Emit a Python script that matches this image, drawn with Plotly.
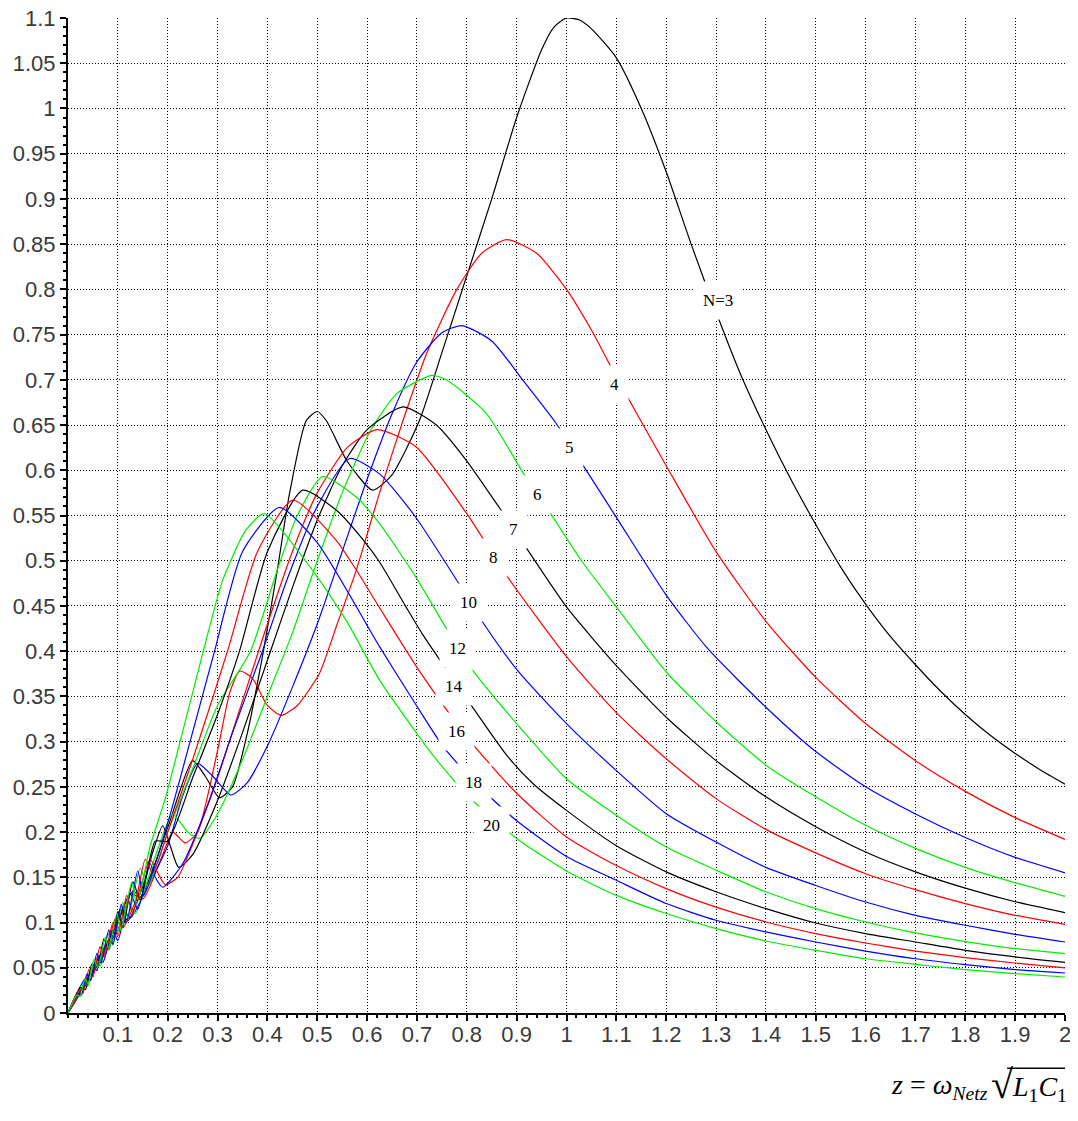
import plotly.graph_objects as go

# ---- data (x = z, y = ratio) ----
N_LABELS = ["N=3", "4", "5", "6", "7", "8", "10", "12", "14", "16", "18", "20"]
COLORS = ["#000000", "#ff0000", "#0000ff", "#00ee00"] * 3

X3 = [0, 0.05, 0.1, 0.125, 0.145, 0.2, 0.25, 0.275, 0.304, 0.33, 0.36, 0.391, 0.42, 0.444, 0.478, 0.5, 0.518, 0.56, 0.611, 0.65, 0.705, 0.75, 0.8, 0.85, 0.9, 0.95, 0.975, 1.0, 1.025, 1.05, 1.1, 1.15, 1.2, 1.25, 1.3, 1.35, 1.4, 1.45, 1.5, 1.55, 1.6, 1.65, 1.7, 1.75, 1.8, 1.85, 1.9, 1.95, 2.0]
Y3 = [0, 0.05, 0.1, 0.132, 0.128, 0.205, 0.279, 0.262, 0.238, 0.25, 0.31, 0.397, 0.49, 0.573, 0.655, 0.665, 0.655, 0.61, 0.578, 0.595, 0.655, 0.73, 0.815, 0.9, 0.99, 1.065, 1.09, 1.1, 1.098, 1.088, 1.056, 1.0, 0.93, 0.85, 0.775, 0.705, 0.645, 0.59, 0.54, 0.493, 0.452, 0.416, 0.385, 0.356, 0.33, 0.307, 0.287, 0.269, 0.253]

X4 = [0, 0.05, 0.1, 0.13, 0.15, 0.19, 0.21, 0.235, 0.26, 0.3, 0.325, 0.345, 0.37, 0.4, 0.428, 0.46, 0.504, 0.54, 0.578, 0.625, 0.672, 0.72, 0.78, 0.83, 0.88, 0.94, 1.0, 1.05, 1.1, 1.2, 1.3, 1.4, 1.5, 1.6, 1.7, 1.8, 1.9, 2.0]
Y4 = [0, 0.046, 0.092, 0.135, 0.126, 0.175, 0.2, 0.188, 0.2, 0.29, 0.355, 0.378, 0.37, 0.34, 0.329, 0.34, 0.375, 0.43, 0.489, 0.575, 0.655, 0.73, 0.8, 0.84, 0.855, 0.84, 0.80, 0.755, 0.703, 0.605, 0.51, 0.433, 0.371, 0.32, 0.279, 0.245, 0.216, 0.192]

X5 = [0, 0.05, 0.09, 0.11, 0.125, 0.16, 0.2, 0.23, 0.26, 0.29, 0.327, 0.36, 0.404, 0.45, 0.5, 0.55, 0.6, 0.652, 0.7, 0.75, 0.79, 0.85, 0.912, 0.979, 1.029, 1.1, 1.2, 1.283, 1.4, 1.5, 1.6, 1.7, 1.8, 1.9, 2.0]
Y5 = [0, 0.044, 0.082, 0.115, 0.105, 0.14, 0.185, 0.24, 0.276, 0.262, 0.241, 0.255, 0.30, 0.36, 0.43, 0.51, 0.59, 0.665, 0.72, 0.752, 0.76, 0.743, 0.70, 0.652, 0.609, 0.548, 0.462, 0.403, 0.338, 0.289, 0.25, 0.22, 0.194, 0.172, 0.155]

X6 = [0, 0.05, 0.1, 0.12, 0.135, 0.17, 0.21, 0.24, 0.264, 0.3, 0.35, 0.4, 0.45, 0.5, 0.55, 0.608, 0.66, 0.73, 0.759, 0.839, 0.912, 0.966, 1.03, 1.1, 1.2, 1.3, 1.4, 1.5, 1.6, 1.7, 1.8, 1.9, 2.0]
Y6 = [0, 0.048, 0.09, 0.124, 0.11, 0.165, 0.22, 0.2, 0.193, 0.22, 0.28, 0.35, 0.42, 0.5, 0.575, 0.645, 0.685, 0.705, 0.70, 0.663, 0.598, 0.554, 0.5, 0.449, 0.377, 0.322, 0.274, 0.239, 0.2075, 0.182, 0.161, 0.144, 0.129]

X7 = [0, 0.05, 0.09, 0.105, 0.12, 0.15, 0.17, 0.19, 0.205, 0.222, 0.25, 0.3, 0.35, 0.4, 0.45, 0.5, 0.55, 0.6, 0.672, 0.739, 0.799, 0.866, 0.922, 1.0, 1.1, 1.2, 1.3, 1.4, 1.5, 1.6, 1.7, 1.8, 1.9, 2.0]
Y7 = [0, 0.048, 0.088, 0.115, 0.102, 0.14, 0.178, 0.207, 0.185, 0.161, 0.175, 0.235, 0.31, 0.39, 0.47, 0.545, 0.605, 0.645, 0.67, 0.65, 0.611, 0.558, 0.512, 0.449, 0.384, 0.327, 0.279, 0.239, 0.206, 0.178, 0.156, 0.138, 0.123, 0.111]

X8 = [0, 0.05, 0.08, 0.095, 0.11, 0.14, 0.165, 0.18, 0.195, 0.22, 0.26, 0.3, 0.35, 0.4, 0.45, 0.5, 0.56, 0.62, 0.698, 0.8, 0.882, 1.0, 1.1, 1.2, 1.3, 1.4, 1.5, 1.6, 1.7, 1.8, 1.9, 2.0]
Y8 = [0, 0.046, 0.075, 0.104, 0.094, 0.13, 0.17, 0.155, 0.142, 0.15, 0.2, 0.26, 0.345, 0.43, 0.51, 0.575, 0.625, 0.645, 0.626, 0.552, 0.482, 0.394, 0.332, 0.281, 0.237, 0.203, 0.177, 0.154, 0.1364, 0.121, 0.108, 0.098]

X10 = [0, 0.035, 0.045, 0.06, 0.07, 0.09, 0.1, 0.125, 0.14, 0.165, 0.175, 0.19, 0.23, 0.28, 0.33, 0.39, 0.44, 0.5, 0.565, 0.625, 0.695, 0.782, 0.832, 0.9, 1.0, 1.1, 1.2, 1.3, 1.4, 1.5, 1.6, 1.7, 1.8, 1.9, 2.0]
Y10 = [0, 0.038, 0.036, 0.062, 0.056, 0.092, 0.08, 0.132, 0.115, 0.165, 0.15, 0.139, 0.165, 0.23, 0.31, 0.40, 0.48, 0.56, 0.613, 0.596, 0.55, 0.4765, 0.432, 0.38, 0.32, 0.268, 0.2204, 0.189, 0.161, 0.141, 0.1227, 0.108, 0.097, 0.087, 0.0785]

X12 = [0, 0.03, 0.04, 0.055, 0.065, 0.08, 0.09, 0.11, 0.12, 0.145, 0.16, 0.2, 0.25, 0.3, 0.366, 0.42, 0.46, 0.511, 0.578, 0.625, 0.7, 0.759, 0.809, 0.906, 1.0, 1.1, 1.2, 1.3, 1.4, 1.5, 1.6, 1.7, 1.8, 1.9, 2.0]
Y12 = [0, 0.032, 0.03, 0.06, 0.052, 0.088, 0.075, 0.122, 0.105, 0.16, 0.14, 0.2, 0.27, 0.34, 0.40, 0.49, 0.55, 0.593, 0.5705, 0.541, 0.48, 0.425, 0.381, 0.316, 0.259, 0.2186, 0.1835, 0.158, 0.134, 0.1154, 0.1006, 0.0885, 0.079, 0.0712, 0.0657]

X14 = [0, 0.025, 0.035, 0.048, 0.058, 0.072, 0.082, 0.1, 0.11, 0.13, 0.145, 0.175, 0.2, 0.25, 0.3, 0.344, 0.4, 0.471, 0.538, 0.598, 0.625, 0.678, 0.712, 0.802, 0.88, 0.932, 1.0, 1.1, 1.2, 1.3, 1.4, 1.5, 1.6, 1.7, 1.8, 1.9, 2.0]
Y14 = [0, 0.028, 0.026, 0.054, 0.047, 0.082, 0.07, 0.112, 0.095, 0.145, 0.125, 0.19, 0.19, 0.26, 0.33, 0.40, 0.51, 0.578, 0.556, 0.519, 0.4986, 0.449, 0.418, 0.3457, 0.285, 0.254, 0.224, 0.185, 0.156, 0.134, 0.1154, 0.0995, 0.0878, 0.0785, 0.0693, 0.062, 0.056]

X16 = [0, 0.022, 0.03, 0.042, 0.05, 0.064, 0.073, 0.09, 0.1, 0.118, 0.13, 0.155, 0.17, 0.2, 0.25, 0.32, 0.38, 0.451, 0.538, 0.578, 0.625, 0.705, 0.8, 0.9, 1.0, 1.1, 1.2, 1.3, 1.4, 1.5, 1.6, 1.7, 1.8, 1.9, 2.0]
Y16 = [0, 0.025, 0.022, 0.048, 0.04, 0.073, 0.062, 0.1, 0.085, 0.13, 0.11, 0.17, 0.155, 0.2, 0.28, 0.40, 0.51, 0.567, 0.5226, 0.49, 0.448, 0.378, 0.305, 0.243, 0.1946, 0.163, 0.1375, 0.117, 0.1006, 0.0878, 0.0774, 0.0685, 0.0612, 0.0553, 0.0498]

X18 = [0, 0.02, 0.027, 0.038, 0.045, 0.058, 0.066, 0.082, 0.09, 0.107, 0.117, 0.14, 0.152, 0.2, 0.24, 0.294, 0.35, 0.424, 0.5, 0.625, 0.692, 0.752, 0.814, 0.899, 1.0, 1.1, 1.2, 1.3, 1.4, 1.5, 1.6, 1.7, 1.8, 1.9, 2.0]
Y18 = [0, 0.022, 0.02, 0.043, 0.036, 0.066, 0.055, 0.092, 0.076, 0.12, 0.1, 0.157, 0.13, 0.21, 0.29, 0.40, 0.51, 0.559, 0.52, 0.405, 0.346, 0.295, 0.256, 0.213, 0.173, 0.1467, 0.121, 0.1025, 0.0896, 0.0785, 0.0685, 0.06, 0.0535, 0.048, 0.0442]

X20 = [0, 0.018, 0.024, 0.034, 0.04, 0.052, 0.06, 0.075, 0.082, 0.098, 0.106, 0.128, 0.138, 0.165, 0.194, 0.224, 0.27, 0.31, 0.357, 0.394, 0.491, 0.558, 0.625, 0.705, 0.729, 0.8, 0.9, 1.0, 1.1, 1.2, 1.3, 1.4, 1.5, 1.6, 1.7, 1.8, 1.9, 2.0]
Y20 = [0, 0.02, 0.018, 0.038, 0.032, 0.059, 0.05, 0.084, 0.07, 0.11, 0.092, 0.145, 0.12, 0.185, 0.235, 0.298, 0.397, 0.478, 0.534, 0.552, 0.489, 0.434, 0.368, 0.305, 0.287, 0.241, 0.193, 0.157, 0.13, 0.11, 0.0933, 0.0796, 0.0693, 0.06, 0.0538, 0.048, 0.0435, 0.0398]

SERIES = [(X3, Y3), (X4, Y4), (X5, Y5), (X6, Y6), (X7, Y7), (X8, Y8),
          (X10, Y10), (X12, Y12), (X14, Y14), (X16, Y16), (X18, Y18), (X20, Y20)]

# label anchor points (on each curve)
LABEL_X = [1.304, 1.097, 1.007, 0.941, 0.893, 0.854, 0.804, 0.782, 0.774, 0.78, 0.814, 0.85]
LABEL_Y = [0.788, 0.695, 0.625, 0.573, 0.535, 0.504, 0.454, 0.403, 0.361, 0.311, 0.255, 0.207]

X_TICKS = [round(0.1 * i, 1) for i in range(1, 21)]
X_TICKTEXT = ["0.1", "0.2", "0.3", "0.4", "0.5", "0.6", "0.7", "0.8", "0.9", "1",
              "1.1", "1.2", "1.3", "1.4", "1.5", "1.6", "1.7", "1.8", "1.9", "2"]
Y_TICKS = [round(0.05 * i, 2) for i in range(0, 23)]
Y_TICKTEXT = ["0", "0.05", "0.1", "0.15", "0.2", "0.25", "0.3", "0.35", "0.4", "0.45",
              "0.5", "0.55", "0.6", "0.65", "0.7", "0.75", "0.8", "0.85", "0.9", "0.95",
              "1", "1.05", "1.1"]

fig = go.Figure()
for (xs, ys), col, name in zip(SERIES, COLORS, N_LABELS):
    fig.add_trace(go.Scatter(x=xs, y=ys, mode="lines", name=name,
                             line=dict(color=col, width=1.2, shape="spline", smoothing=0.6),
                             hoverinfo="skip"))

for lx, ly, t in zip(LABEL_X, LABEL_Y, N_LABELS):
    fig.add_annotation(x=lx, y=ly, text=t, showarrow=False, xref="x", yref="y",
                       font=dict(family="Liberation Serif", size=17, color="#000"),
                       bgcolor="white", borderpad=9)

tickfont = dict(family="Liberation Sans", size=22, color="#3a3a3a")
grid = dict(showgrid=True, gridcolor="#000", griddash="1px,2px", gridwidth=1,
            zeroline=False, showline=True, linecolor="#000", linewidth=2,
            ticks="outside", ticklen=6, tickcolor="#000", tickwidth=1.5,
            ticklabeloverflow="allow", automargin=False)
fig.update_xaxes(range=[0, 2], tickvals=X_TICKS, ticktext=X_TICKTEXT, tickfont=tickfont,
                 ticklabelstandoff=-5,
                 minor=dict(dtick=0.02, tick0=0, ticks="outside", ticklen=3, tickcolor="#000", showgrid=False),
                 **grid)
fig.update_yaxes(range=[0, 1.1], tickvals=Y_TICKS, ticktext=Y_TICKTEXT, tickfont=tickfont,
                 minor=dict(dtick=0.01, tick0=0, ticks="outside", ticklen=3, tickcolor="#000", showgrid=False),
                 **grid)

# axis title  z = ω_Netz √(L1 C1)
serif = "Liberation Serif"
fig.add_annotation(xref="paper", yref="paper", x=0.925, y=-0.074, xanchor="right", yanchor="middle",
                   text="<i>z</i> = <i>ω</i><sub><i>Netz</i></sub>", showarrow=False,
                   font=dict(family=serif, size=28, color="#000"))
fig.add_annotation(xref="paper", yref="paper", x=0.924, y=-0.072, xanchor="left", yanchor="middle",
                   text="√", showarrow=False, font=dict(family=serif, size=40, color="#000"))
fig.add_annotation(xref="paper", yref="paper", x=0.945, y=-0.076, xanchor="left", yanchor="middle",
                   text="<i>L</i><sub>1</sub><i>C</i><sub>1</sub>", showarrow=False,
                   font=dict(family=serif, size=28, color="#000"))
fig.add_shape(type="line", xref="paper", yref="paper", x0=0.942, x1=1.0, y0=-0.0555, y1=-0.0555,
              line=dict(color="#000", width=1.5))

# page body has an 8px default margin, so the figure is 8px smaller than the window
fig.update_layout(width=1070, height=1113, margin=dict(l=60, r=13, t=10, b=108, autoexpand=False),
                  plot_bgcolor="white", paper_bgcolor="white", showlegend=False)

fig.write_html("out.html")
